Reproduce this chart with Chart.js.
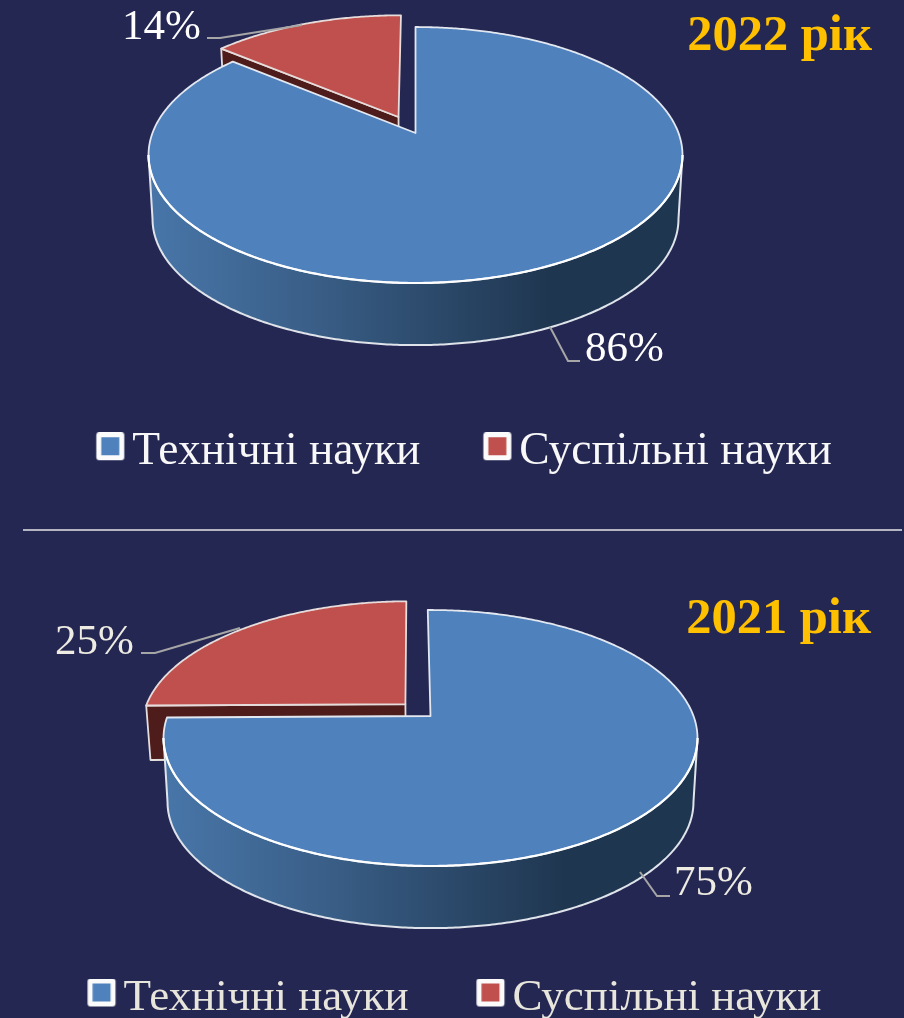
<!DOCTYPE html>
<html lang="uk"><head><meta charset="utf-8">
<style>
html,body{margin:0;padding:0;background:#252753;width:904px;height:1018px;overflow:hidden}
#a,#b{position:absolute;left:0;width:904px}
#a{top:0;height:522px}
#b{top:532px;height:499px}
#sep{position:absolute;left:23px;top:529px;width:879px;height:2px;background:#b4b4c2}
</style>
<script src="https://cdn.jsdelivr.net/npm/chart.js@4"></script>
</head><body>
<div id="a"><canvas id="c1"></canvas></div>
<div id="sep"></div>
<div id="b"><canvas id="c2"></canvas></div>
<script>
const categories = ['Технічні науки', 'Суспільні науки'];
const titles = ['2022 рік', '2021 рік'];
const values2022 = [86, 14];
const values2021 = [75, 25];
const colors = ['#4f81bd', '#c0504d'];
const wallColor = '#4e1d1b';

function marker(color,off){
  const c = document.createElement('canvas'); c.width = 140; c.height = 40;
  const x = c.getContext('2d'), l = 70 + off;
  x.fillStyle = '#fbfbfb'; x.beginPath(); x.roundRect(l,0,28,28,3); x.fill();
  x.fillStyle = color; x.fillRect(l+5,5,18,18);
  return c;
}

const C = -0.172, A = 128, B = -22, D = 263;
function project(o,u,v,dy,s){
  const w = 1 + C*v;
  return [o.cx + s*D*u/w, o.cy + dy + s*(A*v + B)/w];
}
function trace(ctx,pts){ pts.forEach((p,i)=> i?ctx.lineTo(p[0],p[1]):ctx.moveTo(p[0],p[1])); }
function arcPts(o,a0,a1,ox,oy,dy,s){
  const n = Math.max(2,Math.ceil(Math.abs(a1-a0)/0.01)), r = [];
  for(let i=0;i<=n;i++){ const a = a0+(a1-a0)*i/n; r.push(project(o,Math.cos(a)+ox,Math.sin(a)+oy,dy,s)); }
  return r;
}

const pie3d = {
  id:'pie3d',
  beforeDatasetDraw(chart,args,o){
    const ctx = chart.ctx, els = chart.getDatasetMeta(0).data;
    const [blue,red] = els;
    ctx.save(); ctx.lineJoin='round';
    // exploded slice
    const [ex,ey] = o.explode;
    const ra = arcPts(o,red.startAngle,red.endAngle,ex,ey,0,1);
    const apex = project(o,ex,ey,0,1);
    const p0 = ra[0], p0b = project(o,Math.cos(red.startAngle)+ex,Math.sin(red.startAngle)+ey,o.redDepth,o.shrink);
    const apexB = project(o,ex,ey,o.redDepth,o.shrink);
    ctx.fillStyle = wallColor; ctx.strokeStyle='#e4dedd'; ctx.lineWidth=1.8;
    ctx.beginPath(); trace(ctx,[apex,p0,p0b,apexB]); ctx.closePath(); ctx.fill(); ctx.stroke();
    ctx.fillStyle = red.options.backgroundColor; ctx.strokeStyle='#e6dcdb';
    ctx.beginPath(); trace(ctx,[apex,...ra]); ctx.closePath(); ctx.fill(); ctx.stroke();
    // main slice: side wall
    const th0 = Math.asin(-C), front0 = th0, front1 = Math.PI-th0;
    const top = arcPts(o,front0,front1,0,0,0,1);
    const low = arcPts(o,front1,front0,0,0,o.depth,o.shrink);
    const g = ctx.createLinearGradient(o.cx-267,0,o.cx+267,0);
    g.addColorStop(0,'#4876a9'); g.addColorStop(0.3,'#3a5f88'); g.addColorStop(0.75,'#1f3650'); g.addColorStop(1,'#1f3650');
    ctx.fillStyle = g; ctx.beginPath(); trace(ctx,[...top,...low]); ctx.closePath(); ctx.fill();
    ctx.strokeStyle='#dfe3ea'; ctx.lineWidth=2;
    const lowFull = [top[top.length-1],...low,top[0]];
    ctx.beginPath(); trace(ctx,lowFull); ctx.stroke();
    // main slice: top face
    const ba = arcPts(o,blue.startAngle,blue.endAngle,0,0,0,1);
    ctx.fillStyle = blue.options.backgroundColor; ctx.strokeStyle='#e3e8f0'; ctx.lineWidth=1.8;
    ctx.beginPath(); trace(ctx,[project(o,0,0,0,1),...ba]); ctx.closePath(); ctx.fill(); ctx.stroke();
    ctx.strokeStyle='#ffffff'; ctx.lineWidth=2.2;
    ctx.beginPath(); trace(ctx,top); ctx.stroke();
    ctx.restore();
    return false;
  },
  afterDraw(chart,args,o){
    const ctx = chart.ctx, vals = chart.data.datasets[0].data;
    ctx.save();
    o.leaders.forEach((l,i)=>{
      ctx.strokeStyle='#a6a6a6'; ctx.lineWidth=2;
      ctx.beginPath(); trace(ctx,l); ctx.stroke();
      ctx.fillStyle=o.labelColor; ctx.font='43px "Liberation Serif"'; ctx.textBaseline='alphabetic';
      ctx.fillText(vals[i]+'%',o.labelPos[i][0],o.labelPos[i][1]);
    });
    ctx.restore();
  }
};

function build(id,title,values,cfg){
  return new Chart(document.getElementById(id),{
    type:'pie',
    data:{labels:categories,datasets:[{data:values,backgroundColor:colors}]},
    plugins:[pie3d],
    options:{
      responsive:true,maintainAspectRatio:false,animation:false,rotation:cfg.rotation,
      layout:{padding:cfg.padding},
      plugins:{
        tooltip:{enabled:false},
        title:{display:true,text:title,align:'end',color:'#ffc000',
          font:{family:'"Liberation Serif"',size:50.5,weight:'bold',lineHeight:1},padding:cfg.titlePadding},
        legend:{position:'bottom',labels:{
          color:cfg.textColor,font:{family:'"Liberation Serif"',size:cfg.legendSize},usePointStyle:true,pointStyleWidth:cfg.boxW,padding:4,
          generateLabels:(ch)=>ch.data.labels.map((t,i)=>({text:t,fontColor:cfg.textColor,pointStyle:marker(colors[i],cfg.boxW/2+cfg.legendSize/2-36),datasetIndex:0,index:i,hidden:false}))
        }},
        pie3d:cfg.pie
      }
    }
  });
}

build('c1',titles[0],values2022,{
  rotation:0,padding:{left:-3,right:32,top:0,bottom:37},titlePadding:{top:12,bottom:0},boxW:72.25,legendSize:45.5,textColor:'#f8f8f8',
  pie:{cx:415.5,cy:155,depth:64,redDepth:54,shrink:0.985,explode:[-0.066,-0.132],labelColor:'#ffffff',
    leaders:[[[550,327],[568,361],[580,361]],[[207,38],[220,38],[302,25]]],
    labelPos:[[585,361],[122,39]]}
});
build('c2',titles[1],values2021,{
  rotation:-0.7,padding:{left:-26,right:33,top:0,bottom:0},titlePadding:{top:63,bottom:0},boxW:77.5,legendSize:45,textColor:'#e8e6dc',
  pie:{cx:430.5,cy:206,depth:64,redDepth:54,shrink:0.985,explode:[-0.097,-0.098],labelColor:'#eeece2',
    leaders:[[[640,340],[657,364],[670,364]],[[141,121],[155,121],[240,96]]],
    labelPos:[[674,363],[55,122]]}
});
</script>
</body></html>
